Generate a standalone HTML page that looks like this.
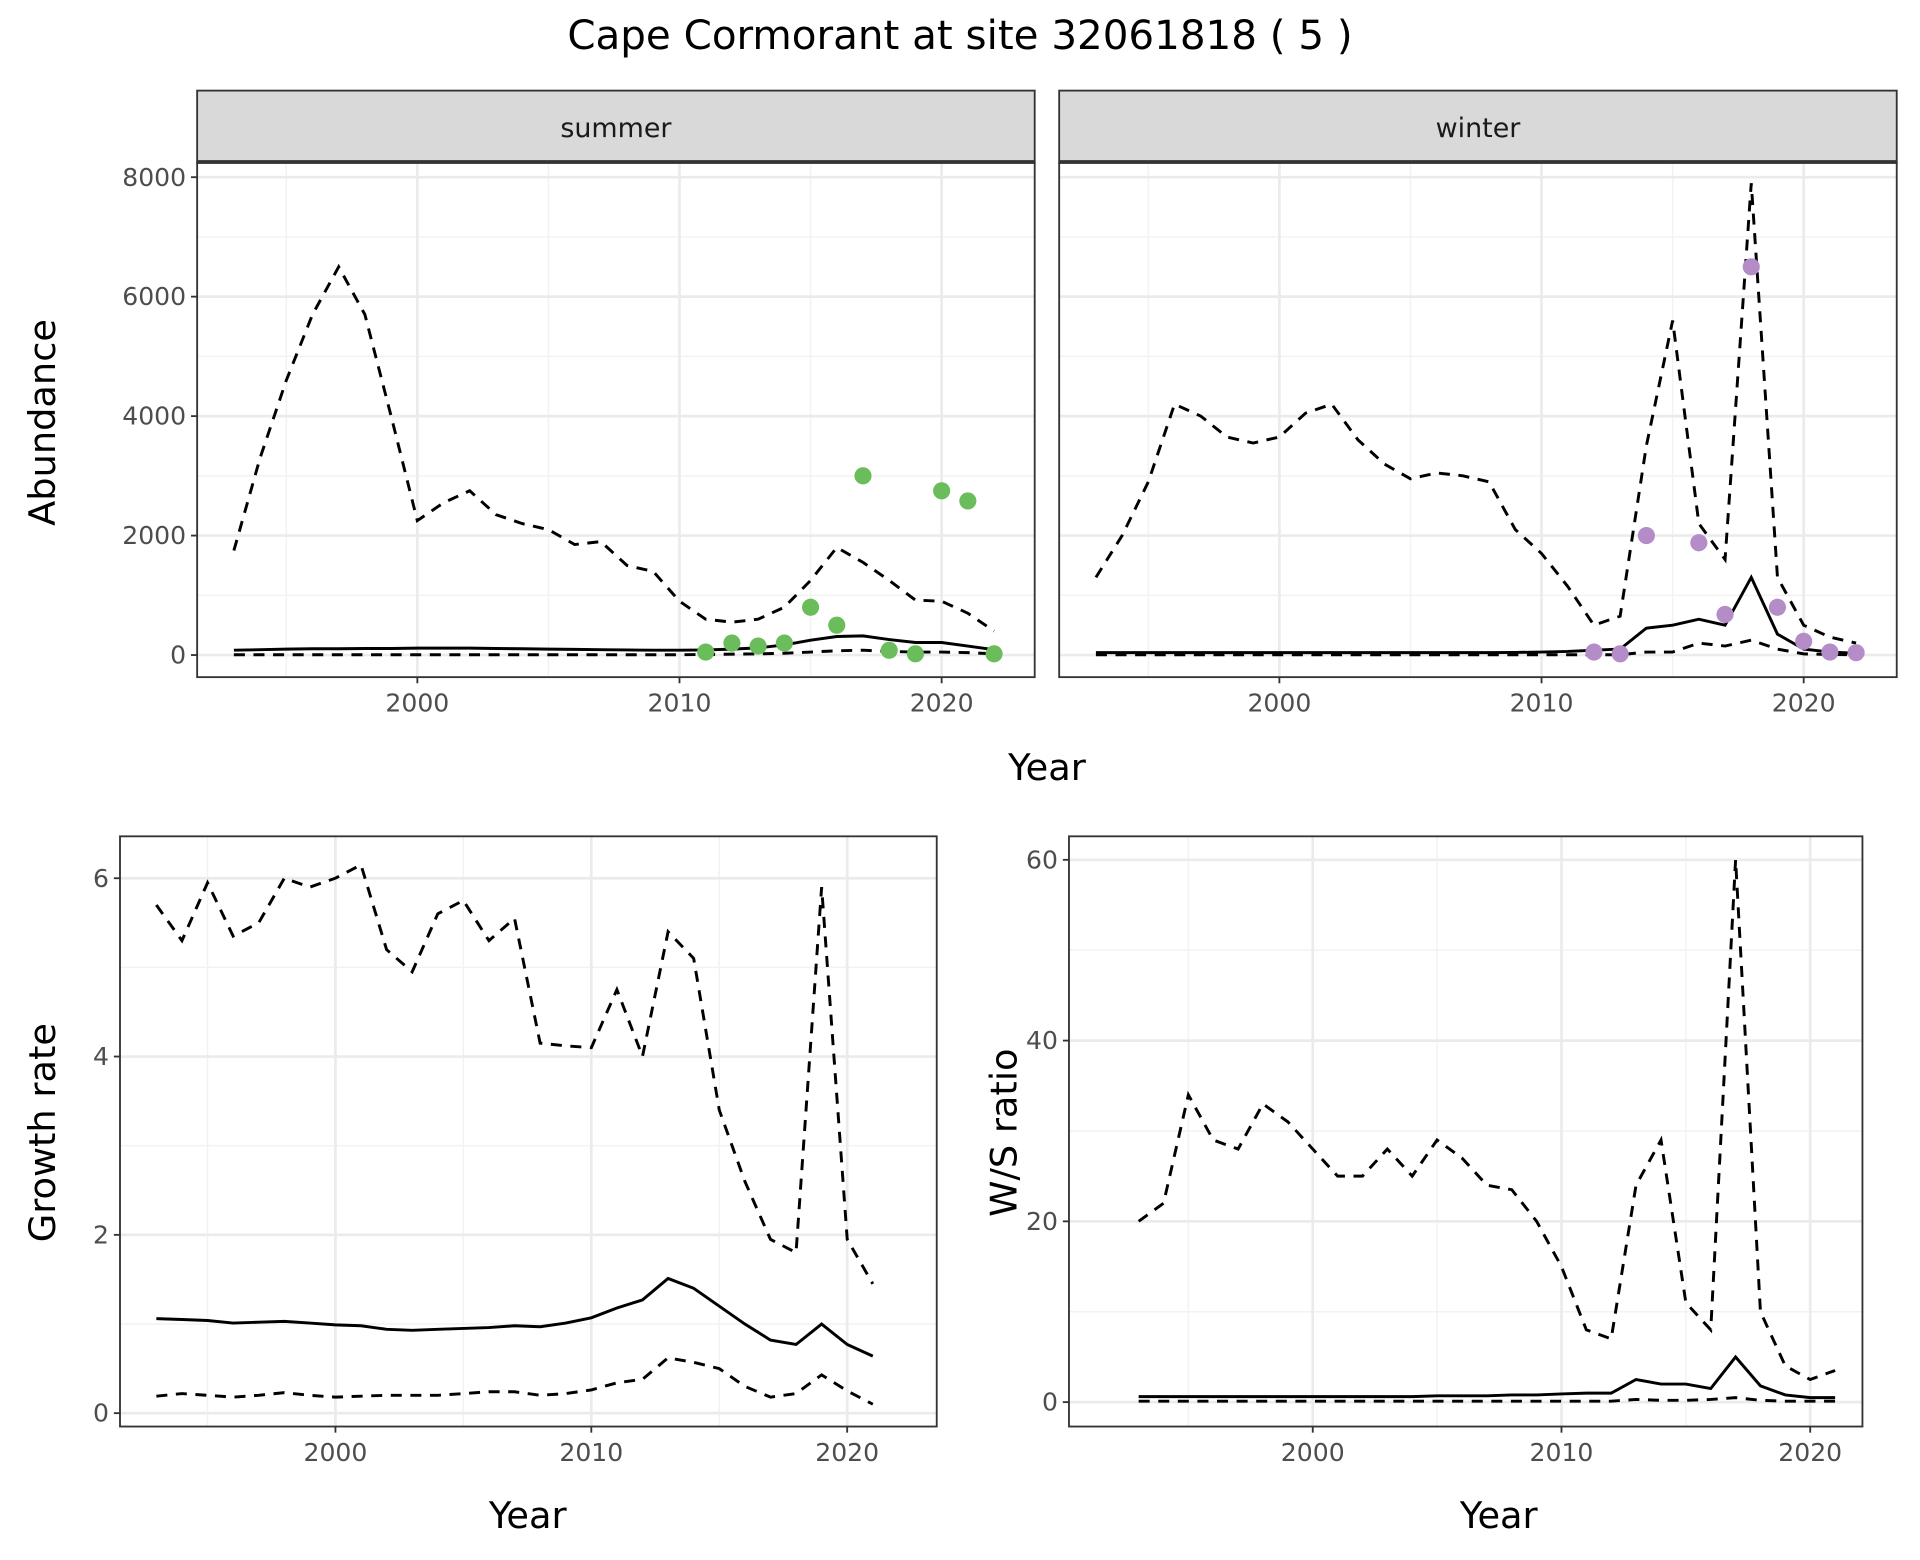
<!DOCTYPE html>
<html><head><meta charset="utf-8"><style>
html,body{margin:0;padding:0;background:#fff}
svg{display:block}
text{font-family:"DejaVu Sans","Liberation Sans",sans-serif}
</style></head><body>
<svg id="chart" width="1920" height="1560" viewBox="0 0 1568 1274" xmlns="http://www.w3.org/2000/svg">
<text x="784" y="40" text-anchor="middle" font-size="33">Cape Cormorant at site 32061818 ( 5 )</text>
</svg>
<script>
const yearsAbund = [1993,1994,1995,1996,1997,1998,1999,2000,2001,2002,2003,2004,2005,2006,2007,2008,2009,2010,2011,2012,2013,2014,2015,2016,2017,2018,2019,2020,2021,2022];
const summerUpper = [1750,3300,4600,5700,6500,5700,4000,2250,2550,2750,2350,2200,2100,1850,1900,1500,1400,900,600,550,600,800,1250,1800,1550,1250,920,900,700,400];
const summerMean = [80,90,100,105,105,110,110,115,115,115,110,105,100,95,90,85,80,80,85,100,120,170,250,310,320,260,210,210,150,90];
const summerLower = [5,5,5,5,5,5,5,5,5,5,5,5,5,5,5,5,5,5,10,15,20,30,50,70,80,60,50,50,40,20];
const summerObsYears = [2011,2012,2013,2014,2015,2016,2017,2018,2019,2020,2021,2022];
const summerObs = [50,200,150,200,800,500,3000,80,20,2750,2580,20];
const winterUpper = [1300,2000,2900,4200,4000,3650,3550,3650,4050,4200,3600,3200,2950,3050,3000,2900,2100,1700,1150,500,650,3500,5600,2200,1600,7900,1300,500,300,200];
const winterMean = [40,40,40,40,40,40,40,40,40,40,40,40,40,40,40,40,45,50,60,80,100,450,500,600,500,1300,350,100,50,30];
const winterLower = [5,5,5,5,5,5,5,5,5,5,5,5,5,5,5,5,5,5,5,5,5,50,50,200,150,250,100,20,10,5];
const winterObsYears = [2012,2013,2014,2016,2017,2018,2019,2020,2021,2022];
const winterObs = [50,20,2000,1880,680,6500,800,230,50,40];
const yearsRatio = [1993,1994,1995,1996,1997,1998,1999,2000,2001,2002,2003,2004,2005,2006,2007,2008,2009,2010,2011,2012,2013,2014,2015,2016,2017,2018,2019,2020,2021];
const growthUpper = [5.7,5.3,5.95,5.35,5.5,6.0,5.9,6.0,6.15,5.2,4.95,5.6,5.75,5.3,5.55,4.15,4.12,4.1,4.75,4.0,5.4,5.1,3.4,2.6,1.95,1.8,5.9,1.95,1.45];
const growthMean = [1.06,1.05,1.04,1.01,1.02,1.03,1.01,0.99,0.98,0.94,0.93,0.94,0.95,0.96,0.98,0.97,1.01,1.07,1.18,1.27,1.51,1.4,1.2,1.0,0.82,0.77,1.0,0.77,0.64];
const growthLower = [0.19,0.22,0.2,0.18,0.2,0.23,0.2,0.18,0.19,0.2,0.2,0.2,0.22,0.24,0.24,0.2,0.22,0.26,0.34,0.38,0.62,0.57,0.5,0.3,0.18,0.22,0.43,0.25,0.1];
const wsUpper = [20,22,34,29,28,33,31,28,25,25,28,25,29,27,24,23.5,20,15,8,7,24,29,11,8,60,10,4,2.5,3.5];
const wsMean = [0.6,0.6,0.6,0.6,0.6,0.6,0.6,0.6,0.6,0.6,0.6,0.6,0.7,0.7,0.7,0.8,0.8,0.9,1,1,2.5,2,2,1.5,5,1.8,0.8,0.5,0.5];
const wsLower = [0.1,0.1,0.1,0.1,0.1,0.1,0.1,0.1,0.1,0.1,0.1,0.1,0.1,0.1,0.1,0.1,0.1,0.1,0.1,0.1,0.3,0.2,0.2,0.3,0.5,0.2,0.1,0.1,0.1];
const xTicks = [2000,2010,2020];
const abundTicks = [0,2000,4000,6000,8000];
const growthTicks = [0,2,4,6];
const wsTicks = [0,20,40,60];

const NS='http://www.w3.org/2000/svg';
const svg=document.getElementById('chart');
function el(tag,attrs,parent){const e=document.createElementNS(NS,tag);for(const k in attrs)e.setAttribute(k,attrs[k]);(parent||svg).appendChild(e);return e;}

function panel(p){
  const g=el('g',{});
  
  
  const X=v=>p.x0+(v-p.xmin)/(p.xmax-p.xmin)*(p.x1-p.x0);
  const Y=v=>p.y1-(v-p.ymin)/(p.ymax-p.ymin)*(p.y1-p.y0);
  for(let i=0;i<xTicks.length;i++){const m=xTicks[i]-5;if(X(m)>p.x0&&X(m)<p.x1)el('line',{x1:X(m),x2:X(m),y1:p.y0,y2:p.y1,stroke:'#f2f2f2','stroke-width':1.2},g);}
  {const m=xTicks[xTicks.length-1]+5;if(X(m)<p.x1)el('line',{x1:X(m),x2:X(m),y1:p.y0,y2:p.y1,stroke:'#f2f2f2','stroke-width':1.2},g);}
  for(let i=0;i<p.yt.length-1;i++){const m=(p.yt[i]+p.yt[i+1])/2;el('line',{x1:p.x0,x2:p.x1,y1:Y(m),y2:Y(m),stroke:'#f2f2f2','stroke-width':1.2},g);}
  {const m=p.yt[p.yt.length-1]+(p.yt[1]-p.yt[0])/2;if(Y(m)>p.y0)el('line',{x1:p.x0,x2:p.x1,y1:Y(m),y2:Y(m),stroke:'#f2f2f2','stroke-width':1.2},g);}
  xTicks.forEach(t=>el('line',{x1:X(t),x2:X(t),y1:p.y0,y2:p.y1,stroke:'#ebebeb','stroke-width':2.2},g));
  p.yt.forEach(t=>el('line',{x1:p.x0,x2:p.x1,y1:Y(t),y2:Y(t),stroke:'#ebebeb','stroke-width':2.2},g));
  const path=(xs,ys,dash,name)=>{const d=xs.map((x,i)=>(i?'L':'M')+X(x).toFixed(1)+','+Y(ys[i]).toFixed(1)).join('');const a={d:d,fill:'none',stroke:'#000','stroke-width':2.4};if(dash)a['stroke-dasharray']='9,7';const e=el('path',a,g);};
  path(p.xs,p.upper,true,'upper-bound-line');
  path(p.xs,p.lower,true,'lower-bound-line');
  path(p.xs,p.mean,false,'mean-line');
  if(p.obs){p.obsX.forEach((x,i)=>{const c=el('circle',{cx:X(x),cy:Y(p.obs[i]),r:7,fill:p.col},g);});}
  el('rect',{x:p.x0,y:p.y0,width:p.x1-p.x0,height:p.y1-p.y0,fill:'none',stroke:'#333','stroke-width':1.5},g);
  xTicks.forEach(t=>{el('line',{x1:X(t),x2:X(t),y1:p.y1,y2:p.y1+5,stroke:'#333','stroke-width':1.5},g);const tx=el('text',{x:X(t),y:p.y1+28,'text-anchor':'middle','font-size':20.5,fill:'#4d4d4d'},g);tx.textContent=t;});
  if(p.ylab){p.yt.forEach(t=>{el('line',{x1:p.x0-5,x2:p.x0,y1:Y(t),y2:Y(t),stroke:'#333','stroke-width':1.5},g);const tx=el('text',{x:p.x0-9,y:Y(t)+7,'text-anchor':'end','font-size':20.5,fill:'#4d4d4d'},g);tx.textContent=t;});}
  if(p.strip){const r=el('rect',{x:p.x0,y:p.y0-59,width:p.x1-p.x0,height:59,fill:'#d9d9d9',stroke:'#333','stroke-width':1.5},g);
    el('line',{x1:p.x0,x2:p.x1,y1:p.y0-1,y2:p.y0-1,stroke:'#333','stroke-width':2.5},g);
    const tx=el('text',{x:(p.x0+p.x1)/2,y:p.y0-21,'text-anchor':'middle','font-size':22,fill:'#1a1a1a'},g);tx.textContent=p.strip;}
}
const topY0=133, topY1=553;
panel({name:'summer-panel',x0:161,x1:845,y0:topY0,y1:topY1,xmin:1991.6,xmax:2023.55,ymin:-370,ymax:8240,yt:abundTicks,xs:yearsAbund,upper:summerUpper,mean:summerMean,lower:summerLower,obs:summerObs,obsX:summerObsYears,col:'#6abd5a',ylab:true,strip:'summer'});
panel({name:'winter-panel',x0:865,x1:1549,y0:topY0,y1:topY1,xmin:1991.6,xmax:2023.55,ymin:-370,ymax:8240,yt:abundTicks,xs:yearsAbund,upper:winterUpper,mean:winterMean,lower:winterLower,obs:winterObs,obsX:winterObsYears,col:'#b48cc8',ylab:false,strip:'winter'});
panel({name:'growth-panel',x0:98,x1:765,y0:683,y1:1165,xmin:1991.58,xmax:2023.5,ymin:-0.15,ymax:6.47,yt:growthTicks,xs:yearsRatio,upper:growthUpper,mean:growthMean,lower:growthLower,ylab:true});
panel({name:'ws-ratio-panel',x0:873,x1:1521,y0:683,y1:1165,xmin:1990.2,xmax:2022.1,ymin:-2.7,ymax:62.6,yt:wsTicks,xs:yearsRatio,upper:wsUpper,mean:wsMean,lower:wsLower,ylab:true});
function lab(txt,x,y,rot,name){const t=el('text',{x:x,y:y,'text-anchor':'middle','font-size':30,fill:'#000'});if(rot)t.setAttribute('transform','rotate(-90 '+x+' '+y+')');t.textContent=txt;}
lab('Year',855,637,false,'x-axis-title-top');
lab('Abundance',45,345,true,'y-axis-title-abundance');
lab('Year',431,1248,false,'x-axis-title-growth');
lab('Growth rate',45,925,true,'y-axis-title-growth');
lab('Year',1224,1248,false,'x-axis-title-ratio');
lab('W/S ratio',830,925,true,'y-axis-title-ratio');
</script>
</body></html>
